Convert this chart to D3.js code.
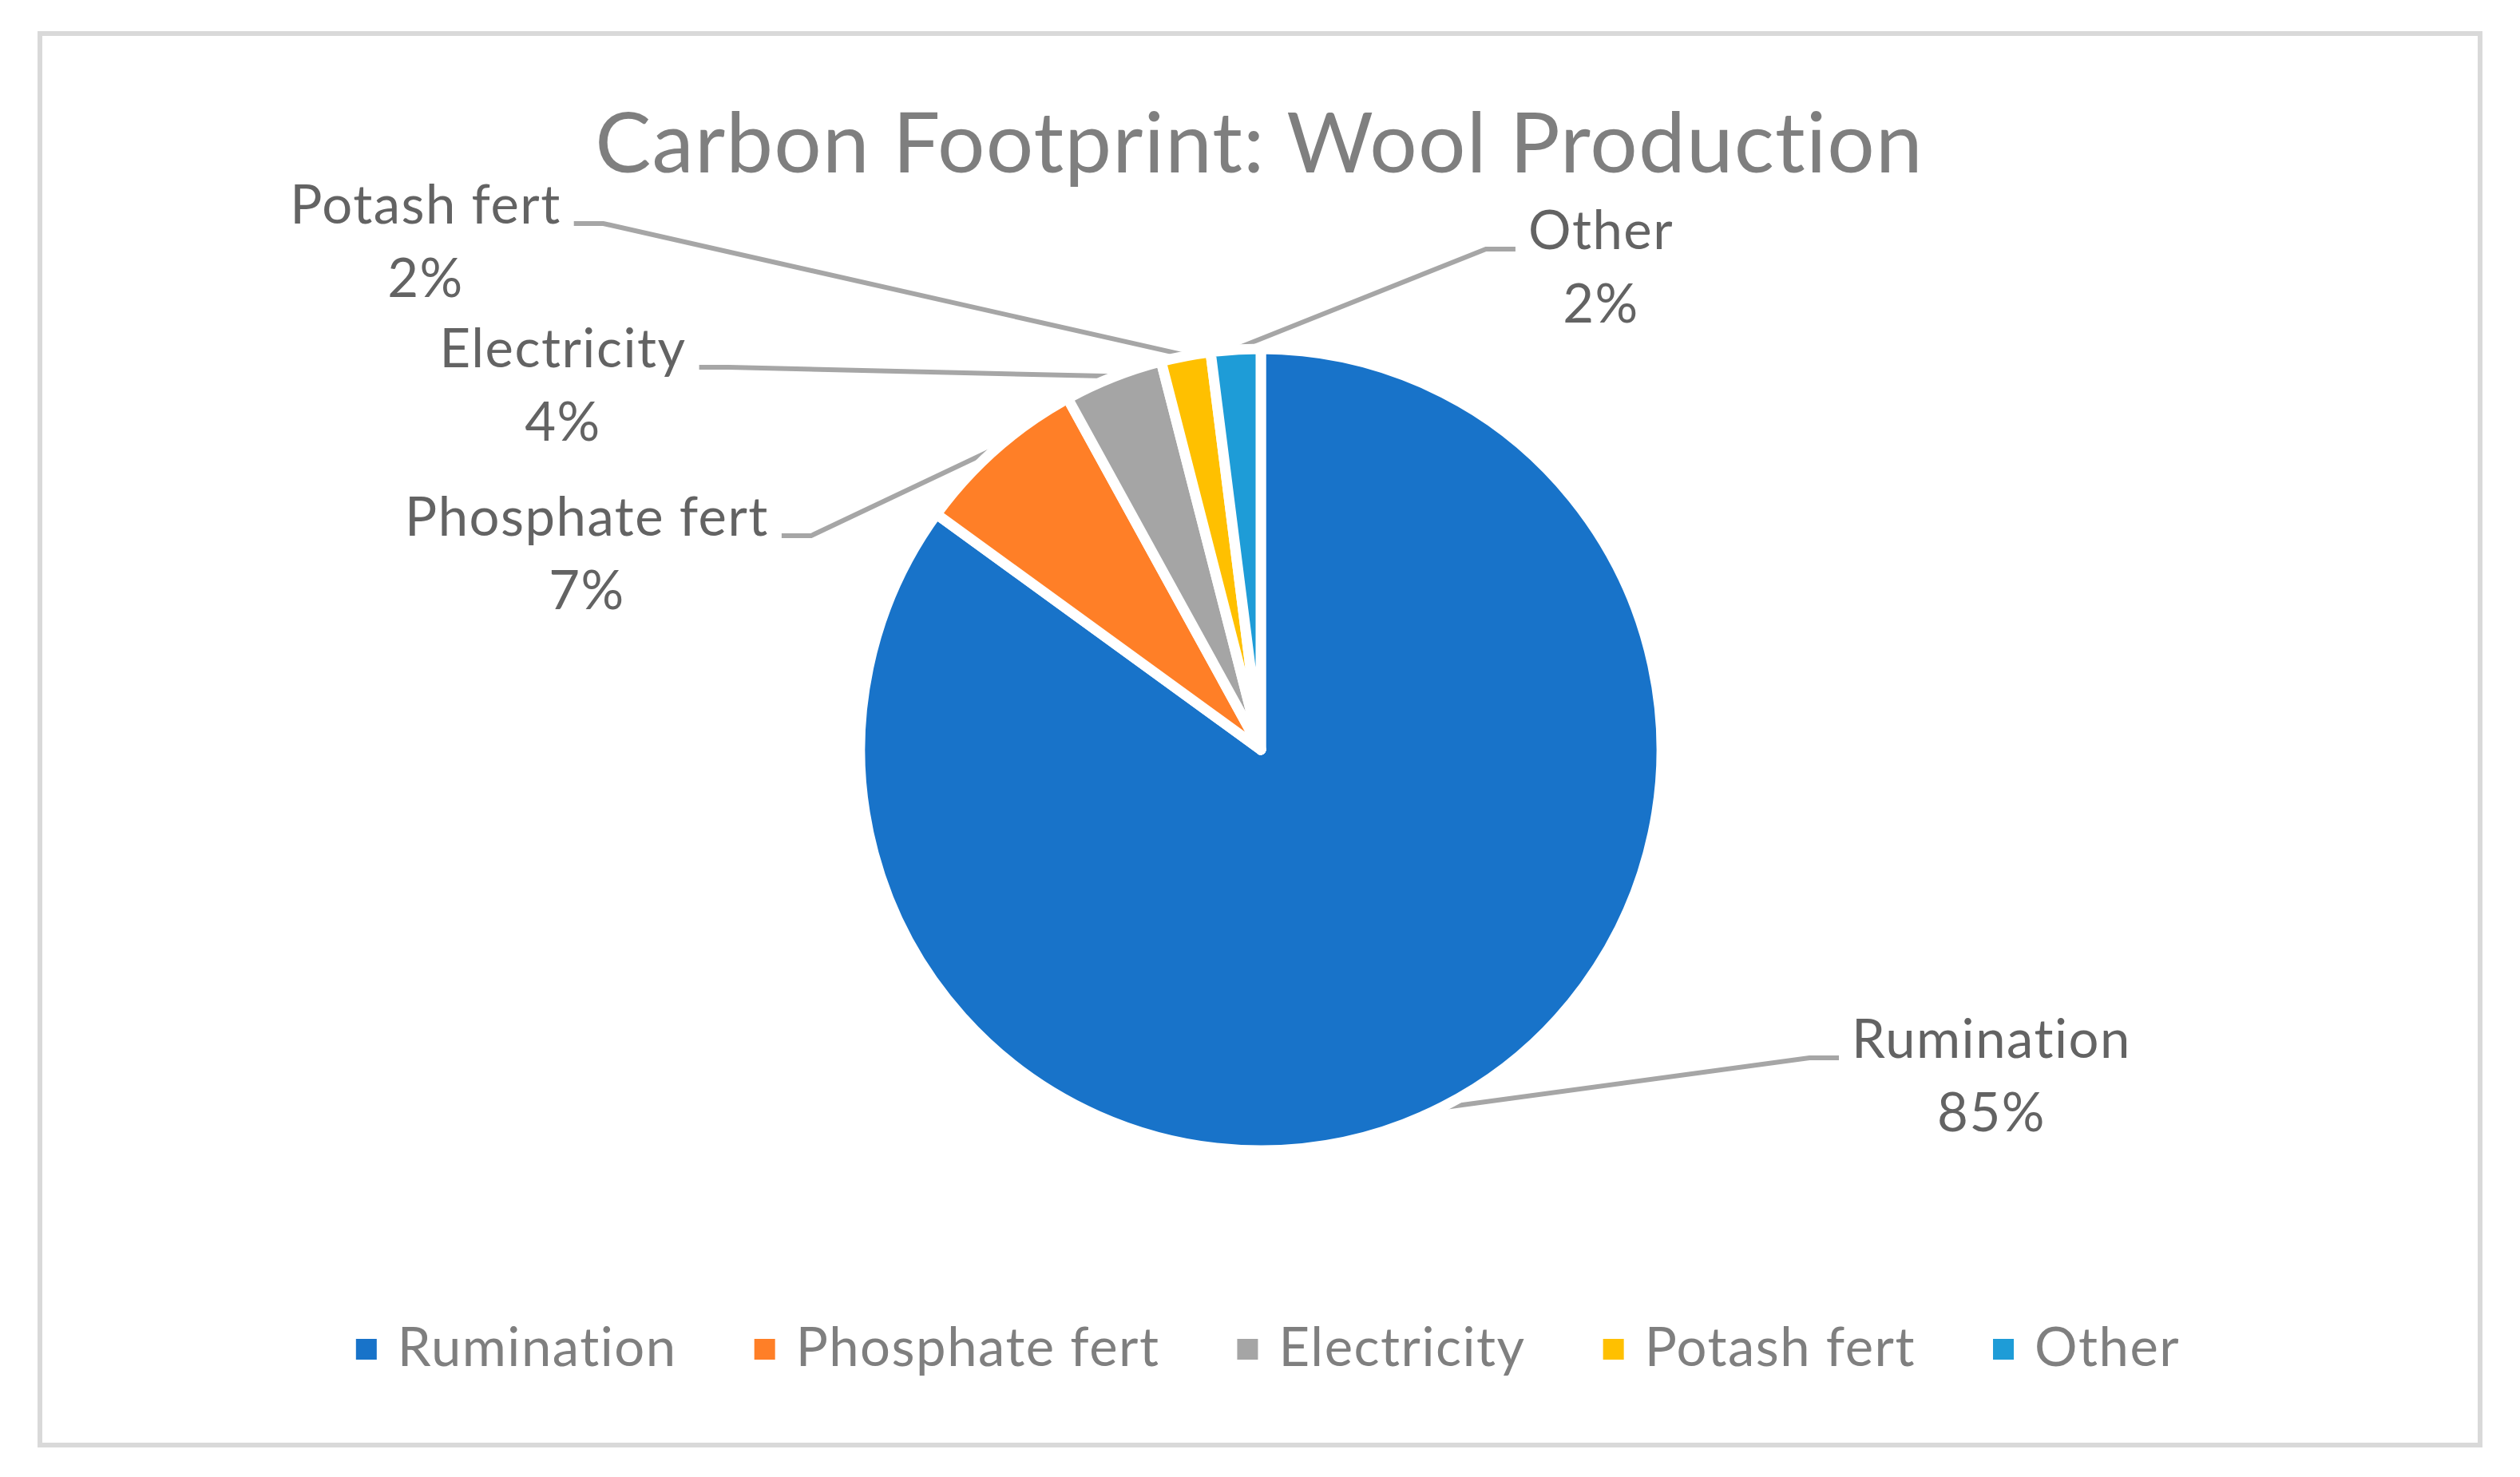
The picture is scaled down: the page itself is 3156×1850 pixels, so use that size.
<!DOCTYPE html>
<html>
<head>
<meta charset="utf-8">
<script src="https://cdn.jsdelivr.net/npm/d3@7"></script>
<style>
  html, body { margin: 0; padding: 0; background: #fff; }
  svg { display: block; font-variant-ligatures: none; font-feature-settings: "liga" 0; }
</style>
</head>
<body>
<div id="chart"></div>
<script>
// Carbon footprint of wool production, share per source
var categories = ['Rumination', 'Phosphate fert', 'Electricity', 'Potash fert', 'Other'];
var values     = [85, 7, 4, 2, 2];
var colors     = ['#1873C9', '#FF7F27', '#A5A5A5', '#FFC000', '#1E9CD7'];

// where each data label sits (centre x, first baseline), same order as categories
var labelAnchors = [[2494, 1325], [735, 671], [705, 460], [533, 280], [2005, 312]];

var W = 3156, H = 1850;
var cx = 1579, cy = 939, R = 502;
var font = 'Lato, "Open Sans", sans-serif';

var svg = d3.select('#chart').append('svg')
    .attr('width', W)
    .attr('height', H)
    .attr('viewBox', '0 0 ' + W + ' ' + H);

svg.append('rect')
    .attr('x', 0).attr('y', 0).attr('width', W).attr('height', H)
    .attr('fill', '#fff');

// chart area border
svg.append('rect')
    .attr('x', 50).attr('y', 42)
    .attr('width', 3056).attr('height', 1768)
    .attr('fill', 'none')
    .attr('stroke', '#D9D9D9')
    .attr('stroke-width', 6);

// title
svg.append('text')
    .attr('x', 1577).attr('y', 216)
    .attr('text-anchor', 'middle')
    .attr('font-family', font)
    .attr('font-size', 105)
    .attr('letter-spacing', 1.2)
    .attr('fill', '#7F7F7F')
    .text('Carbon Footprint: Wool Production');

var total = d3.sum(values);
var pct = d3.format('.0%');
var color = d3.scaleOrdinal().domain(categories).range(colors);

var rows = categories.map(function (c, i) {
    return { name: c, value: values[i], anchor: labelAnchors[i] };
});

var pie = d3.pie().sort(null).value(function (d) { return d.value; });
var arcs = pie(rows);

var arc = d3.arc().innerRadius(0).outerRadius(R);
var edge = d3.arc().innerRadius(R + 1).outerRadius(R + 1);

var g = svg.append('g').attr('transform', 'translate(' + cx + ',' + cy + ')');

g.selectAll('path.slice')
    .data(arcs)
    .enter().append('path')
    .attr('class', 'slice')
    .attr('d', arc)
    .attr('fill', function (d) { return color(d.data.name); })
    .attr('stroke', '#fff')
    .attr('stroke-width', 13)
    .attr('stroke-linejoin', 'round');

// data labels: name on one line, percent below
var labelG = svg.append('g');
var lineG = svg.insert('g', 'g');

arcs.forEach(function (d) {
    var ax = d.data.anchor[0], ay = d.data.anchor[1];
    var t = labelG.append('text')
        .attr('text-anchor', 'middle')
        .attr('font-family', font)
        .attr('font-size', 67)
        .attr('letter-spacing', 1.5)
        .attr('fill', '#636363');
    t.append('tspan').attr('x', ax).attr('y', ay).text(d.data.name);
    t.append('tspan').attr('x', ax).attr('y', ay + 92).text(pct(d.data.value / total));

    var w = t.select('tspan').node().getComputedTextLength();
    var end = edge.centroid(d);
    var ex = cx + end[0], ey = cy + end[1];
    var left = ax < cx;
    var sx = left ? ax + w / 2 + 16 : ax - w / 2 - 16;
    var kx = left ? sx + 37 : sx - 37;

    lineG.append('path')
        .attr('d', d3.line()([[sx, ay], [kx, ay], [ex, ey]]))
        .attr('fill', 'none')
        .attr('stroke', '#A6A6A6')
        .attr('stroke-width', 6);
});

// legend along the bottom
var legend = svg.append('g');
var items = legend.selectAll('g.item')
    .data(categories)
    .enter().append('g')
    .attr('class', 'item');

items.append('rect')
    .attr('width', 26).attr('height', 26)
    .attr('y', 1677)
    .attr('fill', function (d) { return color(d); });

items.append('text')
    .attr('y', 1711)
    .attr('font-family', font)
    .attr('font-size', 67)
    .attr('letter-spacing', 1.5)
    .attr('fill', '#7F7F7F')
    .text(function (d) { return d; });

var gap = 97;
var widths = [];
items.select('text').each(function () { widths.push(this.getComputedTextLength()); });
var totalW = d3.sum(widths) + categories.length * 52 + (categories.length - 1) * gap;
var x0 = 1588 - totalW / 2;
items.each(function (d, i) {
    var it = d3.select(this);
    it.select('rect').attr('x', x0);
    it.select('text').attr('x', x0 + 52);
    x0 += 52 + widths[i] + gap;
});
</script>
</body>
</html>
